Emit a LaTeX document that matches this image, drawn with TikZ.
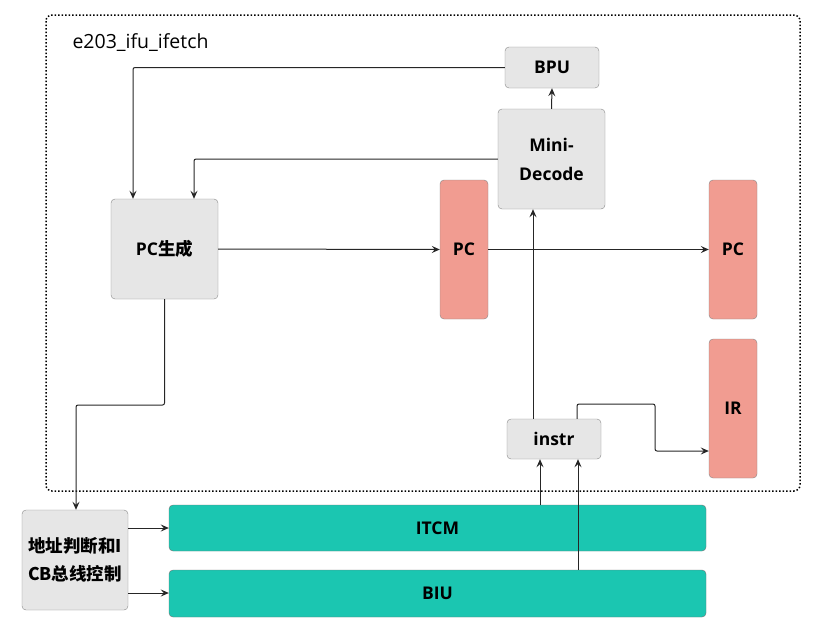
\documentclass[tikz,border=0pt]{standalone}
\usepackage{fontspec}
\setmainfont{Open Sans}
\newfontfamily\cjkfont{Noto Sans CJK SC}
\usetikzlibrary{shapes,arrows.meta}

\definecolor{boxgray}{HTML}{E6E6E6}
\definecolor{boxline}{HTML}{888888}
\definecolor{regred}{HTML}{F19C91}
\definecolor{busteal}{HTML}{1BC6B1}

\begin{document}
\begin{tikzpicture}[x=1pt,y=-1pt]
    \tikzstyle{blk}=[rectangle,rounded corners=4pt,draw=boxline,fill=boxgray,inner sep=0pt,font=\fontsize{17.5}{25}\selectfont\bfseries]
    \tikzstyle{reg}=[blk,fill=regred]
    \tikzstyle{bus}=[blk,fill=busteal,draw=black!55]
    \tikzstyle{wire}=[draw=black!85,line width=1pt,rounded corners=2pt,-{Stealth[length=8pt,width=7pt,inset=3pt]}]
    \useasboundingbox (0,0) rectangle (824,643);
    % frame
    \draw[dotted,line width=1.5pt,rounded corners=6pt] (46,15) rectangle (800,491);
    \node[anchor=west,font=\fontsize{19.5}{22}\selectfont] (title) at (69,43) {e203\_ifu\_ifetch};
    % blocks
    \node[blk,minimum width=94pt,minimum height=41pt] (bpu) at (552,67.5) {BPU};
    \node[blk,minimum width=107pt,minimum height=100pt,align=center,font=\fontsize{17.5}{29}\selectfont\bfseries] (mdec) at (551.5,159) {Mini-\\Decode};
    \node[blk,minimum width=107pt,minimum height=100pt] (pcgen) at (164.5,249) {PC{\cjkfont\bfseries 生成}};
    \node[reg,minimum width=48pt,minimum height=139pt] (pc) at (464,249.5) {PC};
    \node[reg,minimum width=48pt,minimum height=139pt] (pcout) at (733,249.5) {PC};
    \node[reg,minimum width=48pt,minimum height=139pt] (ir) at (733,408.5) {IR};
    \node[blk,minimum width=94pt,minimum height=40pt] (instr) at (554,439) {instr};
    \node[blk,minimum width=106pt,minimum height=100pt,align=center,font=\fontsize{17.5}{28}\selectfont\cjkfont\bfseries] (icb) at (75,560) {地址判断和I\\CB总线控制};
    \node[bus,minimum width=537pt,minimum height=46pt] (itcm) at (437.5,528) {ITCM};
    \node[bus,minimum width=537pt,minimum height=47pt] (biu) at (437.5,593.5) {BIU};
    % connections
    \draw[wire] (bpu.west) -| (pcgen.north -| 133,0);
    \draw[wire] (mdec.west) -| (pcgen.north -| 194,0);
    \draw[wire] (pcgen.east) -- (pc.west);
    \draw[wire] (pc.east) -- (pcout.west);
    \draw[wire] (mdec.north) -- (bpu.south);
    \draw[wire] (instr.north -| 533,0) -- (mdec.south -| 533,0);
    \draw[wire] (instr.north -| 577,0) |- (655,404) |- (ir.west |- 0,451);
    \draw[wire] (itcm.north -| 540,0) -- (instr.south -| 540,0);
    \draw[wire] (biu.north -| 578,0) -- (instr.south -| 578,0);
    \draw[wire] (pcgen.south) |- (76,405) -- (icb.north -| 76,0);
    \draw[wire] (icb.east |- 0,528) -- (itcm.west |- 0,528);
    \draw[wire] (icb.east |- 0,593) -- (biu.west |- 0,593);
\end{tikzpicture}
\end{document}
